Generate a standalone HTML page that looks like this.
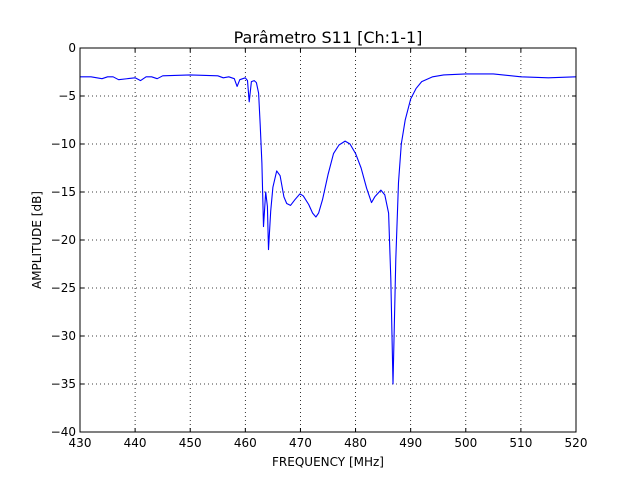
<!DOCTYPE html>
<html><head><meta charset="utf-8"><style>
body{margin:0;background:#fff;}
svg text{font-family:"DejaVu Sans","Liberation Sans",sans-serif;}
</style></head><body>
<svg id="chart" width="640" height="480" xmlns="http://www.w3.org/2000/svg">
<rect width="640" height="480" fill="#fff"/>
<g id="grid"></g>
<path id="line" fill="none" stroke="#0000ff" stroke-width="1.1" stroke-linejoin="round" stroke-linecap="round"/>
<rect x="80" y="48" width="496" height="384" fill="none" stroke="#000" stroke-width="1"/>
<g id="ticks"></g>
<text x="328" y="43" text-anchor="middle" font-size="16">Parâmetro S11 [Ch:1-1]</text>
<text x="328" y="466" text-anchor="middle" font-size="12">FREQUENCY [MHz]</text>
<text x="41" y="240" text-anchor="middle" font-size="12" transform="rotate(-90 41 240)">AMPLITUDE [dB]</text>
</svg>
<script>
const freqs=[430,432,434,435,436,437,440,441,442,443,444,445,450,455,456,457,458,458.5,459,460,460.4,460.7,461.1,461.6,462,462.4,462.7,463,463.3,463.7,464,464.2,464.6,465,465.7,466.3,467,467.5,468.2,469,469.9,470.5,471.5,472.2,472.8,473.3,474,475,476,477,478.1,479,480,481,482,482.9,483.5,484.6,485.3,486,486.4,486.8,487.3,487.8,488.3,489,490,491,492,494,496,500,505,510,515,520];
const amps=[-3.0,-3.0,-3.2,-3.0,-3.0,-3.3,-3.1,-3.4,-3.0,-3.0,-3.2,-2.9,-2.8,-2.9,-3.1,-3.0,-3.2,-4.0,-3.3,-3.1,-3.4,-5.6,-3.5,-3.4,-3.6,-4.7,-8,-12,-18.6,-15,-16.5,-21,-17,-14.5,-12.8,-13.3,-15.5,-16.2,-16.4,-15.8,-15.2,-15.4,-16.3,-17.2,-17.6,-17.2,-15.8,-13.2,-11,-10.1,-9.7,-10,-11,-12.5,-14.6,-16.1,-15.5,-14.8,-15.3,-17.2,-24,-35,-22,-14,-10,-7.5,-5.3,-4.2,-3.5,-3.0,-2.8,-2.7,-2.7,-3.0,-3.1,-3.0];
const xTicks=[430,440,450,460,470,480,490,500,510,520];
const yTicks=[0,-5,-10,-15,-20,-25,-30,-35,-40];
const X=f=>80+(f-430)/90*496;
const Y=d=>48+(-d)/40*384;
const NS='http://www.w3.org/2000/svg';
const grid=document.getElementById('grid'),ticks=document.getElementById('ticks');
function mk(tag,at,parent){const e=document.createElementNS(NS,tag);for(const k in at)e.setAttribute(k,at[k]);parent.appendChild(e);return e;}
xTicks.forEach(t=>{const x=X(t);
 const g=mk('line',{x1:x,x2:x,y1:48,y2:432,stroke:'#000','stroke-dasharray':'1,3','stroke-width':0.8},grid);
 
 
 mk('line',{x1:x,x2:x,y1:432,y2:428,stroke:'#000'},ticks);
 mk('line',{x1:x,x2:x,y1:48,y2:52,stroke:'#000'},ticks);
 const l=mk('text',{x:x,y:447,'text-anchor':'middle','font-size':12},ticks);l.textContent=t;
 
 
});
yTicks.forEach(t=>{const y=Y(t);
 const g=mk('line',{x1:80,x2:576,y1:y,y2:y,stroke:'#000','stroke-dasharray':'1,3','stroke-width':0.8},grid);
 
 
 mk('line',{x1:80,x2:84,y1:y,y2:y,stroke:'#000'},ticks);
 mk('line',{x1:572,x2:576,y1:y,y2:y,stroke:'#000'},ticks);
 const l=mk('text',{x:76,y:y+4,'text-anchor':'end','font-size':12},ticks);l.textContent=(t<0?'\u2212'+(-t):t);
 
 
});
document.getElementById('line').setAttribute('d',freqs.map((f,i)=>(i?'L':'M')+X(f).toFixed(1)+','+Y(amps[i]).toFixed(1)).join(''));
</script>
</body></html>
